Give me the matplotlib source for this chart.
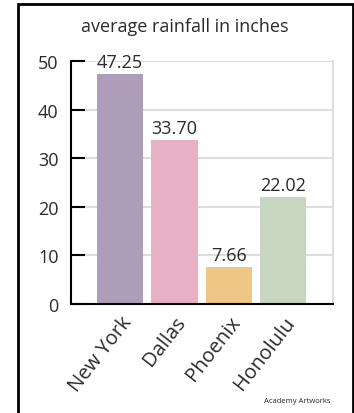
import matplotlib
matplotlib.use("Agg")
import matplotlib.pyplot as plt
from matplotlib.patches import Rectangle

plt.rcParams['font.family'] = ['Open Sans', 'DejaVu Sans']

cities = ["New York", "Dallas", "Phoenix", "Honolulu"]
rainfall = [47.25, 33.70, 7.66, 22.02]
colors = ["#ad9db8", "#e8b0c4", "#f0c685", "#c6d6c1"]
yticks = [0, 10, 20, 30, 40, 50]
title = "average rainfall in inches"
credit = "Academy Artworks"

txt = "#2a2a2a"
fig = plt.figure(figsize=(3.54, 4.14), dpi=100)
fig.patch.set_facecolor("white")
ax = fig.add_axes([71/354, 1-305/414, (333-71)/354, (305-62)/414])

x = list(range(len(cities)))
bars = ax.bar(x, rainfall, width=0.845, color=colors, zorder=2)
for xi, v in zip(x, rainfall):
    ax.text(xi, v + 0.6, f"{v:.2f}", ha="center", va="bottom", fontsize=13, color=txt, zorder=3)

ax.set_xlim(-0.9, 3.91)
ax.set_ylim(0, 50)
ax.set_yticks(yticks)
ax.set_yticklabels([str(t) for t in yticks], fontsize=13, color=txt)
ax.set_xticks(x)
ax.set_xticklabels(cities, rotation=52, ha="right", rotation_mode="anchor", fontsize=14.5, color=txt)
ax.tick_params(axis="x", length=0, pad=6)
ax.tick_params(axis="y", direction="in", length=10, width=1.5, pad=9, color="black")
ax.yaxis.grid(True, color="#dddddd", linewidth=1.5, zorder=0)
ax.set_axisbelow(True)
for s in ["left", "bottom"]:
    ax.spines[s].set_color("black")
    ax.spines[s].set_linewidth(1.5)
    ax.spines[s].set_zorder(4)
ax.spines["top"].set_visible(False)
ax.spines["right"].set_color("#dddddd")
ax.spines["right"].set_linewidth(1.5)

fig.text((82+288)/2/354, 1-27/414, title, ha="center", va="center", fontsize=13, color=txt)
fig.text(331/354, 1-402/414, credit, ha="right", va="center", fontsize=5.5, color=txt)

fig.patches.append(Rectangle((18/354, -0.05), (352.5-18)/354, 1.05-5/414, transform=fig.transFigure,
                             fill=False, edgecolor="black", linewidth=2, zorder=10))

fig.savefig("out.png", dpi=100)
